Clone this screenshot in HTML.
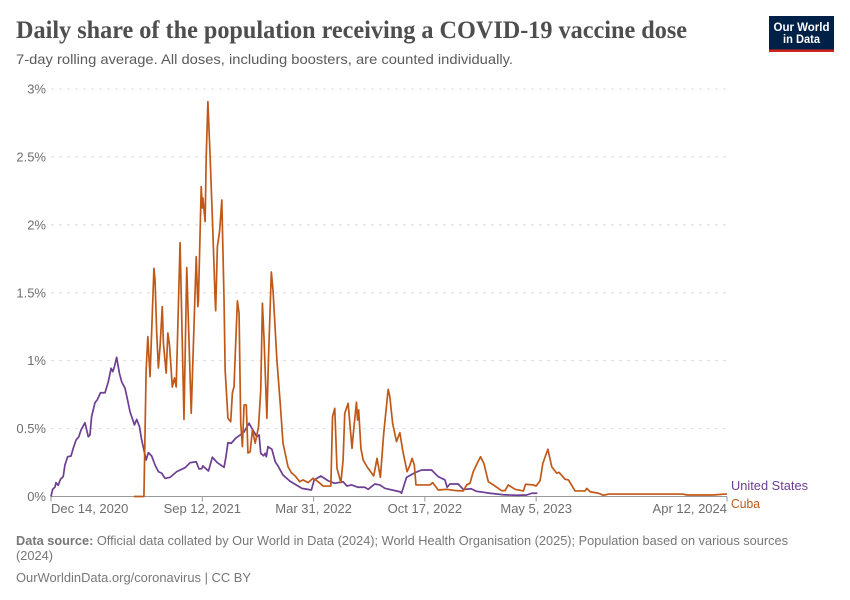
<!DOCTYPE html>
<html>
<head>
<meta charset="utf-8">
<title>Daily share of the population receiving a COVID-19 vaccine dose</title>
<style>
html,body{margin:0;padding:0;background:#fff;}
svg{display:block;}
text{font-family:"Liberation Sans",sans-serif;}
</style>
</head>
<body>
<svg id="chart" width="850" height="600" viewBox="0 0 850 600" xmlns="http://www.w3.org/2000/svg">
  <rect x="0" y="0" width="850" height="600" fill="#fff"/>
  <text x="16" y="38" font-size="25" font-weight="700" fill="#4e4e4e" style="font-family:'Liberation Serif',serif" textLength="671" lengthAdjust="spacingAndGlyphs">Daily share of the population receiving a COVID-19 vaccine dose</text>
  <text x="16" y="64" font-size="14" fill="#5b5b5b" textLength="497" lengthAdjust="spacingAndGlyphs">7-day rolling average. All doses, including boosters, are counted individually.</text>

  <g>
    <rect x="769" y="16" width="65" height="36" fill="#002147"/>
    <rect x="769" y="49.5" width="65" height="2.5" fill="#ce261e"/>
    <text x="801.5" y="31" font-size="12" font-weight="700" fill="#fff" text-anchor="middle" textLength="56" lengthAdjust="spacingAndGlyphs">Our World</text>
    <text x="801.5" y="43" font-size="12" font-weight="700" fill="#fff" text-anchor="middle" textLength="37" lengthAdjust="spacingAndGlyphs">in Data</text>
  </g>

  <g id="grid"></g>
  <g id="yLabels"></g>
  <g id="xAxis"></g>
  <g id="series"></g>

  <text x="731" y="490" font-size="12.5" fill="#6d3e91" textLength="77" lengthAdjust="spacingAndGlyphs">United States</text>
  <text x="731" y="508" font-size="12.5" fill="#c05917" textLength="29" lengthAdjust="spacingAndGlyphs">Cuba</text>

  <text x="16" y="545" font-size="13" fill="#777777" textLength="772" lengthAdjust="spacingAndGlyphs"><tspan font-weight="700">Data source:</tspan> Official data collated by Our World in Data (2024); World Health Organisation (2025); Population based on various sources</text>
  <text x="16" y="560" font-size="13" fill="#777777" textLength="37" lengthAdjust="spacingAndGlyphs">(2024)</text>
  <text x="16" y="582" font-size="13" fill="#777777" textLength="235" lengthAdjust="spacingAndGlyphs">OurWorldinData.org/coronavirus | CC BY</text>
</svg>
<script>
const yTicks = [0, 0.5, 1, 1.5, 2, 2.5, 3];
const yTickLabels = ["0%", "0.5%", "1%", "1.5%", "2%", "2.5%", "3%"];
const xTickDays = [0, 272, 472, 672, 872, 1215];
const xTickLabels = ["Dec 14, 2020", "Sep 12, 2021", "Mar 31, 2022", "Oct 17, 2022", "May 5, 2023", "Apr 12, 2024"];
const lastDay = 1215;
const maxShare = 3;

const usDays = [0,3,7,9,13,17,22,25,30,36,40,45,50,54,61,67,70,73,79,83,89,97,103,108,111,114,118,123,127,133,137,142,150,154,159,163,171,175,181,187,193,199,205,214,226,241,250,261,266,271,273,283,290,299,311,314,318,324,332,340,347,356,361,370,374,377,382,385,387,390,397,403,408,417,429,451,468,473,485,498,510,525,532,540,552,564,570,582,591,600,627,630,639,654,666,684,696,708,712,717,732,741,755,765,789,813,837,855,864,874];
const usShare = [0,.053,.068,.102,.082,.127,.146,.232,.293,.298,.355,.416,.44,.49,.543,.44,.453,.588,.691,.711,.764,.764,.845,.944,.919,.956,1.025,.907,.845,.797,.723,.624,.527,.568,.514,.416,.269,.323,.298,.232,.183,.171,.133,.141,.183,.212,.249,.256,.203,.205,.225,.188,.289,.249,.215,.281,.396,.392,.429,.453,.475,.539,.502,.44,.453,.318,.30,.318,.293,.367,.348,.256,.225,.158,.114,.06,.048,.122,.151,.116,.097,.109,.077,.085,.068,.068,.053,.092,.085,.06,.035,.024,.141,.175,.195,.195,.146,.122,.068,.092,.092,.052,.057,.038,.024,.013,.009,.011,.024,.024];

const cubaDays = [149,167,171,174,178,185,187,190,193,196,200,202,207,210,213,218,222,225,232,239,244,252,261,264,265,270,272,273,277,279,282,286,291,295,296,299,303,307,311,313,318,323,326,329,331,335,338,341,344,347,351,354,358,362,367,373,377,380,383,388,391,396,399,406,412,417,426,432,439,447,453,462,471,480,489,503,506,510,514,521,525,528,534,541,544,549,551,553,557,561,568,580,586,592,598,606,609,614,621,627,632,640,644,649,653,656,666,681,686,696,711,729,741,747,753,759,766,772,778,786,795,810,816,822,834,849,853,867,872,879,884,893,900,909,913,924,930,942,960,963,969,984,993,1002,1136,1143,1190,1211,1215];
const cubaShare = [0,0,.931,1.177,.882,1.68,1.594,1.204,.946,1.103,1.398,1.13,.909,1.204,1.116,.806,.873,.806,1.869,.568,1.685,.613,1.766,1.398,1.447,2.281,2.124,2.198,2.024,2.502,2.907,2.502,1.94,1.447,1.368,1.839,1.95,2.183,1.447,.931,.576,.551,.762,.809,1.029,1.44,1.351,.539,.367,.674,.674,.32,.33,.49,.392,.514,.784,1.423,1.152,.576,1.029,1.653,1.52,1.005,.686,.392,.219,.175,.151,.109,.122,.102,.134,.109,.077,.077,.588,.649,.208,.102,.269,.613,.686,.355,.49,.694,.563,.637,.355,.269,.219,.151,.281,.141,.465,.789,.735,.539,.404,.47,.342,.183,.219,.281,.232,.085,.085,.085,.102,.048,.053,.043,.041,.085,.097,.183,.244,.293,.244,.109,.085,.043,.043,.085,.053,.041,.09,.085,.077,.116,.244,.348,.219,.171,.178,.127,.122,.041,.041,.06,.035,.024,.009,.018,.018,.011,.011,.018,.018];

const NS = "http://www.w3.org/2000/svg";
const plotLeft = 51, plotRight = 727, plotBottom = 496.5, plotTop = 89;
function xScale(day) { return plotLeft + (day / lastDay) * (plotRight - plotLeft); }
function yScale(v) { return plotBottom - (v / maxShare) * (plotBottom - plotTop); }
function make(tag, parentId, attrs) {
  const el = document.createElementNS(NS, tag);
  for (const k in attrs) el.setAttribute(k, attrs[k]);
  document.getElementById(parentId).appendChild(el);
  return el;
}

yTicks.forEach(function (tick, i) {
  if (tick > 0) {
    const line = make("line", "grid", {x1: plotLeft, x2: plotRight, y1: yScale(tick), y2: yScale(tick), stroke: "#dddddd", "stroke-width": 1, "stroke-dasharray": "3,5"});
    
    
  }
  const label = make("text", "yLabels", {x: 46, y: yScale(tick) + 4.5, "font-size": 13, fill: "#6e6e6e", "text-anchor": "end"});
  
  
  label.textContent = yTickLabels[i];
});

const axisLine = make("line", "xAxis", {x1: plotLeft, x2: plotRight, y1: plotBottom, y2: plotBottom, stroke: "#999999", "stroke-width": 1});



xTickDays.forEach(function (day, i) {
  const px = xScale(day);
  const tick = make("line", "xAxis", {x1: px, x2: px, y1: plotBottom, y2: plotBottom + 5, stroke: "#999999", "stroke-width": 1});
  
  
  const anchor = i === 0 ? "start" : (i === xTickDays.length - 1 ? "end" : "middle");
  const label = make("text", "xAxis", {x: px, y: 513, "font-size": 13, fill: "#6e6e6e", "text-anchor": anchor});
  
  
  label.textContent = xTickLabels[i];
});

function linePath(days, values) {
  return days.map(function (d, i) {
    return (i ? "L" : "M") + xScale(d).toFixed(2) + " " + yScale(values[i]).toFixed(2);
  }).join(" ");
}

const usLine = make("path", "series", {d: linePath(usDays, usShare), fill: "none", stroke: "#6d3e91", "stroke-width": 1.7, "stroke-linejoin": "round"});



const cubaLine = make("path", "series", {d: linePath(cubaDays, cubaShare), fill: "none", stroke: "#c05917", "stroke-width": 1.7, "stroke-linejoin": "round"});


</script>
</body>
</html>
